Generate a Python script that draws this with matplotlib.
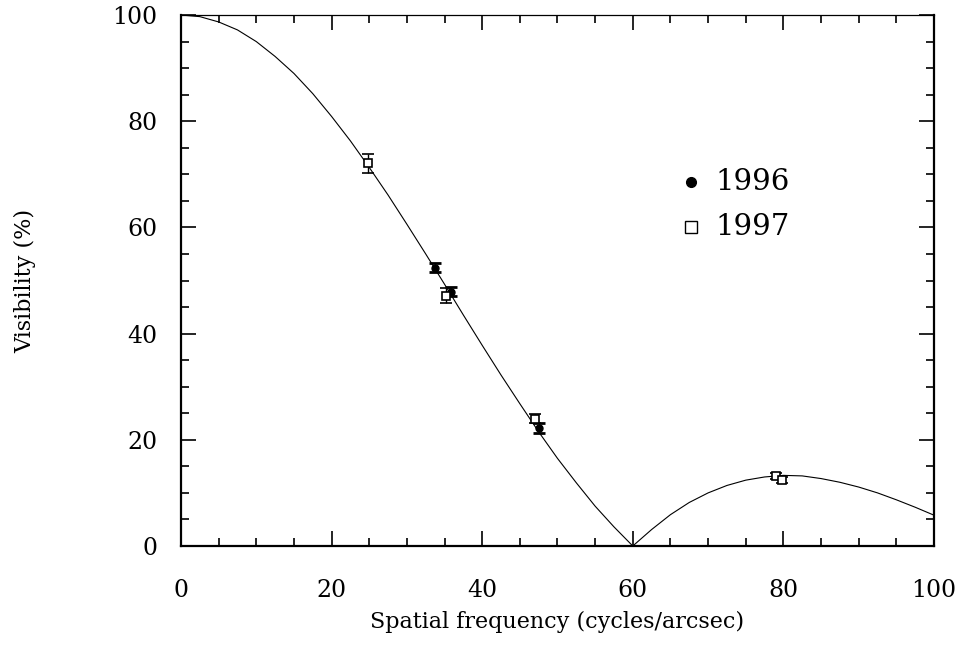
import numpy as np
import matplotlib.pyplot as plt
from matplotlib.ticker import MultipleLocator

plt.rcdefaults()
plt.rc('font', family='DejaVu Serif', size=17)
plt.rc('mathtext', fontset='dejavuserif')

# model curve
freq_model = [0, 2.5, 5, 7.5, 10, 12.5, 15, 17.5, 20, 22.5, 25, 27.5, 30, 32.5,
              35, 37.5, 40, 42.5, 45, 47.5, 50, 52.5, 55, 57.5, 60, 62.5, 65,
              67.5, 70, 72.5, 75, 77.5, 80, 82.5, 85, 87.5, 90, 92.5, 95, 97.5, 100]
vis_model = [100.0, 99.7, 98.7, 97.2, 95.0, 92.2, 89.0, 85.2, 80.9, 76.3, 71.3,
             66.1, 60.6, 55.0, 49.3, 43.5, 37.8, 32.2, 26.8, 21.5, 16.5, 11.9,
             7.5, 3.6, 0.0, 3.1, 5.9, 8.2, 10.0, 11.4, 12.4, 13.0, 13.3, 13.2,
             12.7, 12.0, 11.1, 10.0, 8.7, 7.3, 5.8]

# 1996 measurements
f96 = [33.7, 35.8, 47.5]
v96 = [52.4, 47.9, 22.2]
e96 = [0.85, 0.8, 1.0]

# 1997 measurements
f97 = [24.8, 35.2, 47.0, 79.0, 79.8]
v97 = [72.1, 47.1, 24.0, 13.2, 12.4]
e97 = [1.8, 1.4, 0.8, 0.55, 0.5]

fig = plt.figure(figsize=(9.56, 6.45), dpi=100)
ax = fig.add_axes([0.1893, 0.1535, 0.7877, 0.8232])

ax.plot(freq_model, vis_model, color='black', linewidth=0.8)

ax.errorbar(f96, v96, yerr=e96, fmt='o', color='black', markersize=5,
            elinewidth=1, capsize=4.5, capthick=2)
ax.errorbar(f97, v97, yerr=e97, fmt='s', color='black', mfc='white', mew=1.2,
            markersize=6, elinewidth=1, capsize=4.5, capthick=1.5)

# legend drawn as text + markers
ax.plot(67.7, 68.5, 'o', color='black', markersize=7)
ax.plot(67.7, 60.1, 's', color='black', mfc='white', mew=1, markersize=8)
ax.text(71.0, 68.5, '1996', fontsize=21, va='center')
ax.text(71.0, 60.1, '1997', fontsize=21, va='center')

ax.set_xlim(0, 100)
ax.set_ylim(0, 100)
ax.xaxis.set_major_locator(MultipleLocator(20))
ax.xaxis.set_minor_locator(MultipleLocator(5))
ax.yaxis.set_major_locator(MultipleLocator(20))
ax.yaxis.set_minor_locator(MultipleLocator(5))
ax.tick_params(which='both', direction='in', top=True, right=True, width=1.2)
ax.tick_params(which='major', length=11)
ax.tick_params(which='minor', length=6)
ax.tick_params(axis='x', which='major', pad=24)
ax.tick_params(axis='y', which='major', pad=17)

for side in ('left', 'right', 'bottom'):
    ax.spines[side].set_linewidth(1.6)
ax.spines['top'].set_linewidth(0.9)

ax.set_xlabel('Spatial frequency (cycles/arcsec)', fontsize=16, labelpad=6)
ax.set_ylabel('Visibility (%)', fontsize=16, labelpad=55)

fig.savefig('out.png', dpi=100)
